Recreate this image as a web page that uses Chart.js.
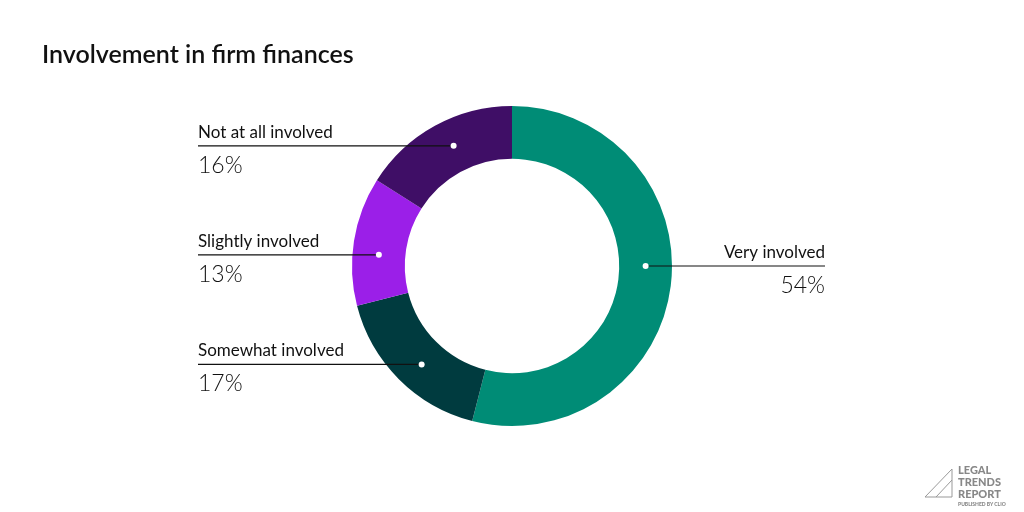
<!DOCTYPE html>
<html><head><meta charset="utf-8">
<script src="https://cdn.jsdelivr.net/npm/chart.js@4"></script>
<style>html,body{margin:0;background:#fff;overflow:hidden}#w{position:relative;width:1024px;height:512px}
#t{position:absolute;left:42px;top:38px;font:600 25px Lato,"Open Sans",sans-serif;color:#111}
#logo{position:absolute;left:922px;top:460px;width:100px;height:50px}</style></head>
<body><div id="w"><canvas id="c" width="1024" height="512"></canvas>
<div id="t">Involvement in firm finances</div>
<svg id="logo" viewBox="0 0 100 50"><g fill="none" stroke="#999" stroke-width="1"><path d="M3 37 L30 9 L30 37 Z M14 37 L30 20"/></g>
<g fill="#888" font-family="Lato,sans-serif" font-weight="900"><text x="36" y="14" font-size="11">LEGAL</text><text x="36" y="26" font-size="11">TRENDS</text><text x="36" y="38" font-size="11">REPORT</text><text x="36" y="46" font-size="5">PUBLISHED BY CLIO</text></g></svg>
</div>
<script>
const categories=["Very involved","Somewhat involved","Slightly involved","Not at all involved"];
const values=[54,17,13,16];
const colors=["#008C76","#003B3F","#9B1FE8","#3F0E66"];
const dotFrac=[0.463,0.46,0.41,0.55];
const labelPlugin={id:'lbl',afterDraw(ch){const c=ch.ctx;const m=ch.getDatasetMeta(0);
m.data.forEach((a,i)=>{const ang=a.startAngle+(a.endAngle-a.startAngle)*dotFrac[i];const r=(a.innerRadius+a.outerRadius)/2;
const x=a.x+Math.cos(ang)*r,y=a.y+Math.sin(ang)*r;const right=Math.cos(ang)>0;const ex=right?825:198;
c.save();c.strokeStyle="#111";c.lineWidth=1.2;c.beginPath();c.moveTo(x,y);c.lineTo(ex,y);c.stroke();
c.fillStyle="#fff";c.beginPath();c.arc(x,y,3,0,Math.PI*2);c.fill();
c.fillStyle="#111";c.textAlign=right?"right":"left";c.font="17px Lato,'Open Sans',sans-serif";c.textBaseline="alphabetic";
c.fillText(categories[i],ex,y-8);c.font="300 23px Lato,'Open Sans',sans-serif";c.fillText(values[i]+"%",ex,y+27);c.restore();});}};
new Chart(document.getElementById('c'),{type:'doughnut',data:{labels:categories,datasets:[{data:values,backgroundColor:colors,borderWidth:0}]},
options:{responsive:false,animation:false,cutout:'67%',layout:{padding:{top:106,bottom:86,left:352,right:352}},plugins:{legend:{display:false},tooltip:{enabled:false}}},plugins:[labelPlugin]});
</script></body></html>
